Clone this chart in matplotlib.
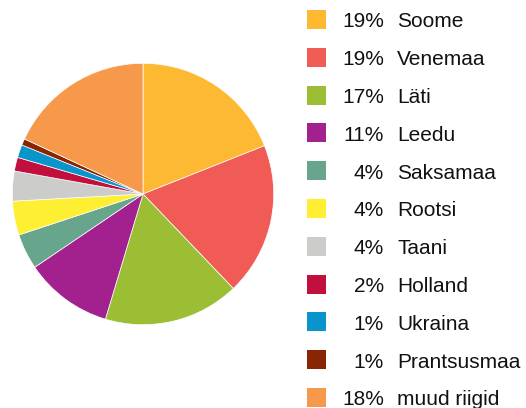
import matplotlib.pyplot as plt
from matplotlib.patches import Rectangle

# export shares by country
countries = ['Soome', 'Venemaa', 'Läti', 'Leedu', 'Saksamaa', 'Rootsi', 'Taani',
             'Holland', 'Ukraina', 'Prantsusmaa', 'muud riigid']
labels_pct = ['19%', '19%', '17%', '11%', '4%', '4%', '4%', '2%', '1%', '1%', '18%']
shares = [19.0, 18.9, 16.8, 10.9, 4.4, 4.2, 3.7, 1.7, 1.6, 0.8, 18.1]
colors = ['#FDB931', '#F15B55', '#9BBE34', '#A3218E', '#67A58C', '#FFEF33',
          '#CCCCCA', '#C1103D', '#0895CB', '#8A2503', '#F7994A']

W, H = 526, 408
fig = plt.figure(figsize=(W / 100, H / 100), dpi=100)

# pie: center (143, 194) px, radius 132 px
cx, cy, r = 143, 194, 132
ax = fig.add_axes([(cx - r) / W, (H - cy - r) / H, 2 * r / W, 2 * r / H])
ax.pie(shares, colors=colors, startangle=90, counterclock=False, radius=1,
       wedgeprops=dict(edgecolor='white', linewidth=0.5))
ax.set_xlim(-1.01, 1.01)
ax.set_ylim(-1.01, 1.01)
ax.set_aspect('equal')
ax.axis('off')

# legend drawn by hand
step = 37.8
for i, (c, p, col) in enumerate(zip(countries, labels_pct, colors)):
    top = 10 + step * i
    fig.patches.append(Rectangle((307 / W, (H - top - 19) / H), 19 / W, 19 / H,
                                 transform=fig.transFigure, facecolor=col,
                                 edgecolor='none'))
    base = 27.4 + step * i
    fig.text(384 / W, (H - base) / H, p, ha='right', va='baseline',
             fontsize=15, family='Liberation Sans', color='#111111')
    fig.text(397 / W, (H - base) / H, c, ha='left', va='baseline',
             fontsize=15, family='Liberation Sans', color='#111111')

fig.savefig('out.png', dpi=100)
